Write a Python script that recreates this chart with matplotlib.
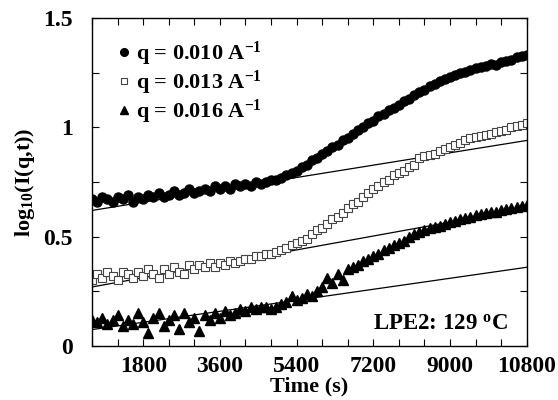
import numpy as np
import matplotlib
matplotlib.use("Agg")
import matplotlib.pyplot as plt
from matplotlib.ticker import MultipleLocator

plt.rcParams["font.family"] = ["Liberation Serif", "DejaVu Serif"]
plt.rcParams["font.weight"] = "bold"
plt.rcParams["mathtext.fontset"] = "custom"
plt.rcParams["mathtext.rm"] = "Liberation Serif:bold"
plt.rcParams["mathtext.it"] = "Liberation Serif:bold"
plt.rcParams["mathtext.bf"] = "Liberation Serif:bold"

# time grid (s), one reading every 120 s
times = np.arange(600, 10801, 120)

q010 = [0.67, 0.66, 0.68, 0.67, 0.66, 0.68, 0.67, 0.69, 0.66, 0.68,
        0.67, 0.69, 0.68, 0.70, 0.68, 0.69, 0.71, 0.69, 0.70, 0.72,
        0.70, 0.71, 0.72, 0.71, 0.73, 0.72, 0.73, 0.72, 0.74, 0.73,
        0.74, 0.73, 0.75, 0.74, 0.75, 0.76, 0.76, 0.77, 0.78, 0.79,
        0.80, 0.82, 0.83, 0.85, 0.86, 0.88, 0.89, 0.91, 0.92, 0.94,
        0.95, 0.97, 0.99, 1.00, 1.02, 1.03, 1.05, 1.06, 1.08, 1.09,
        1.10, 1.12, 1.13, 1.15, 1.16, 1.17, 1.19, 1.20, 1.21, 1.22,
        1.23, 1.24, 1.25, 1.255, 1.26, 1.27, 1.275, 1.28, 1.29, 1.285,
        1.30, 1.305, 1.31, 1.32, 1.325, 1.33]

q013 = [0.30, 0.33, 0.31, 0.34, 0.32, 0.30, 0.34, 0.33, 0.31, 0.34,
        0.32, 0.35, 0.33, 0.31, 0.35, 0.33, 0.36, 0.34, 0.33, 0.37,
        0.35, 0.37, 0.36, 0.38, 0.36, 0.38, 0.37, 0.39, 0.38, 0.39,
        0.40, 0.40, 0.41, 0.41, 0.42, 0.42, 0.43, 0.44, 0.45, 0.46,
        0.47, 0.48, 0.49, 0.51, 0.53, 0.54, 0.56, 0.58, 0.59, 0.61,
        0.63, 0.65, 0.66, 0.68, 0.70, 0.72, 0.73, 0.75, 0.76, 0.78,
        0.79, 0.80, 0.82, 0.83, 0.86, 0.87, 0.875, 0.88, 0.89, 0.90,
        0.91, 0.92, 0.93, 0.94, 0.95, 0.955, 0.96, 0.965, 0.97, 0.98,
        0.985, 0.99, 1.00, 1.005, 1.01, 1.02]

q016 = [0.12, 0.11, 0.13, 0.10, 0.12, 0.14, 0.09, 0.12, 0.10, 0.15,
        0.11, 0.06, 0.13, 0.15, 0.09, 0.12, 0.14, 0.08, 0.15, 0.11,
        0.13, 0.07, 0.14, 0.12, 0.15, 0.13, 0.16, 0.14, 0.15, 0.17,
        0.16, 0.18, 0.17, 0.18, 0.18, 0.17, 0.18, 0.19, 0.20, 0.23,
        0.21, 0.22, 0.24, 0.23, 0.25, 0.27, 0.31, 0.29, 0.33, 0.30,
        0.35, 0.36, 0.37, 0.39, 0.40, 0.41, 0.42, 0.44, 0.45, 0.46,
        0.47, 0.48, 0.50, 0.51, 0.52, 0.53, 0.54, 0.545, 0.55, 0.56,
        0.565, 0.57, 0.58, 0.585, 0.59, 0.60, 0.605, 0.61, 0.615, 0.615,
        0.62, 0.625, 0.63, 0.635, 0.64, 0.645]

# early-time linear fits
fit_t = [600, 10800]
fit010 = [0.62, 0.94]
fit013 = [0.27, 0.63]
fit016 = [0.075, 0.36]

fig = plt.figure(figsize=(5.58, 4.0), dpi=100)
ax = fig.add_axes([0.165, 0.135, 0.779, 0.82])

for fy in (fit010, fit013, fit016):
    ax.plot(fit_t, fy, color="black", linewidth=0.9, zorder=1)

ax.plot(times, q010, "o", color="black", markersize=6.5, label=r"q = 0.010 A$^{-1}$", zorder=3)
ax.plot(times, q013, "s", markerfacecolor="white", markeredgecolor="#444444",
        markeredgewidth=0.8, markersize=5.5, label=r"q = 0.013 A$^{-1}$", zorder=2)
ax.plot(times, q016, "^", color="black", markersize=6.5, label=r"q = 0.016 A$^{-1}$", zorder=3)

ax.set_xlim(600, 10800)
ax.set_ylim(0, 1.5)
ax.xaxis.set_minor_locator(MultipleLocator(600))
ax.yaxis.set_minor_locator(MultipleLocator(0.25))
ax.set_xticks([1800, 3600, 5400, 7200, 9000, 10800])
ax.set_xticklabels(["1800", "3600", "5400", "7200", "9000", "10800"])
ax.set_yticks([0, 0.5, 1, 1.5])
ax.set_yticklabels(["0", "0.5", "1", "1.5"])
ax.tick_params(which="both", direction="in", top=True, right=True, labelsize=17, width=0.8)
ax.tick_params(which="major", length=5)
ax.tick_params(which="minor", length=5)
ax.tick_params(axis="x", pad=7)
ax.tick_params(axis="y", pad=14)
for s in ax.spines.values():
    s.set_linewidth(1.0)

ax.set_xlabel("Time (s)", fontsize=16, fontweight="bold", labelpad=0)
ax.set_ylabel(r"log$_{10}$(I(q,t))", fontsize=16, fontweight="bold", labelpad=4)

leg = ax.legend(loc="upper left", bbox_to_anchor=(0.015, 0.995), frameon=False,
                fontsize=16, handlelength=0.5, handletextpad=0.3, labelspacing=0.05,
                markerscale=0.85)

ax.text(0.956, 0.05, r"LPE2: 129 $^{\mathrm{o}}$C", transform=ax.transAxes,
        ha="right", va="baseline", fontsize=16.5, fontweight="bold")

fig.savefig("out.png", dpi=100)
